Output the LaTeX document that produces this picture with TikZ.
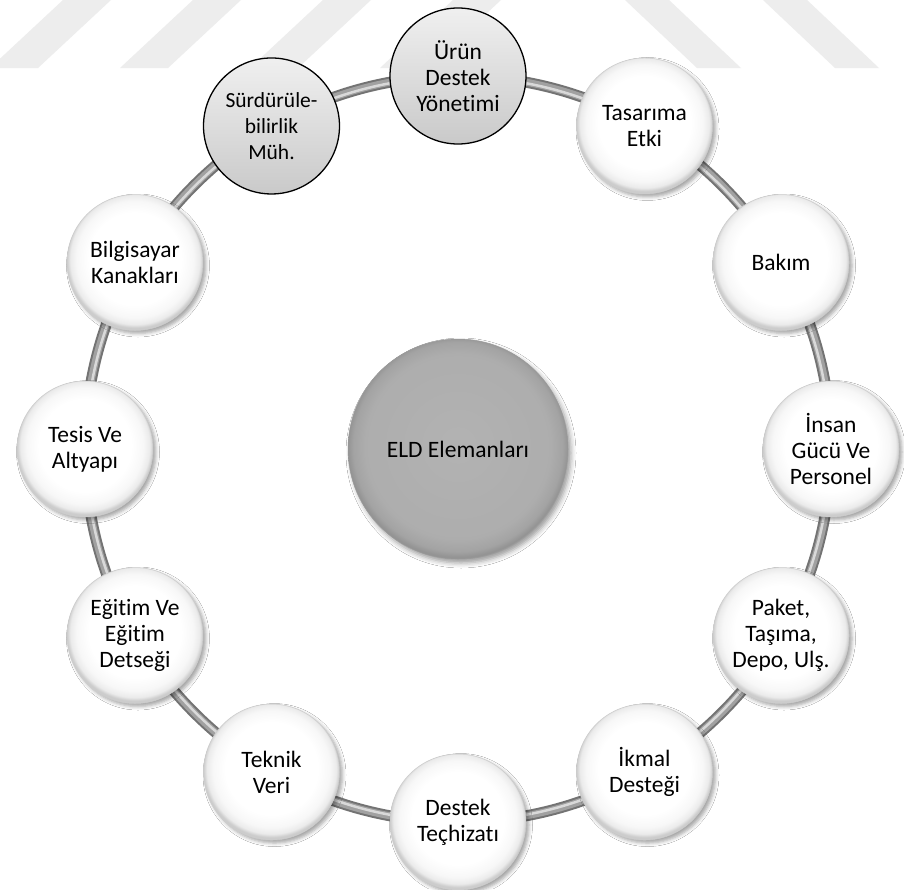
\documentclass[tikz,border=0pt]{standalone}
\usepackage{fontspec}
\setmainfont{Carlito}[Ligatures=NoCommon]
\usetikzlibrary{calc,shadows.blur}

% soft white disc with a faint grey bevel at the rim
\pgfdeclareradialshading{whitedisc}{\pgfpoint{0bp}{2bp}}{%
  color(0bp)=(white); color(17bp)=(white); color(21.5bp)=(black!3);
  color(23.8bp)=(black!8); color(25bp)=(black!20); color(50bp)=(black!20)}
% grey hub disc
\pgfdeclareradialshading{greydisc}{\pgfpoint{0bp}{1bp}}{%
  color(0bp)=(black!30); color(21bp)=(black!32); color(23.8bp)=(black!36);
  color(25bp)=(black!42); color(50bp)=(black!42)}

\tikzset{
  every node/.style={font=\fontsize{23.5}{26}\selectfont, text=black},
  ball/.style={circle, minimum size=136, inner sep=0pt, align=center,
    shading=whitedisc, draw=black!20, line width=0.5pt,
    blur shadow={shadow xshift=3pt, shadow yshift=-3pt,
      shadow blur radius=3.5pt, shadow opacity=35}},
  greyball/.style={circle, minimum size=136, inner sep=0pt, align=center,
    top color=black!6, bottom color=black!21, draw=black, line width=1.3pt},
  smalltext/.style={font=\fontsize{21.5}{26}\selectfont},
  hub/.style={circle, minimum size=220, inner sep=0pt, align=center,
    shading=greydisc, draw=black!40, line width=0.5pt,
    blur shadow={shadow xshift=3pt, shadow yshift=-4pt,
      shadow blur radius=5pt, shadow opacity=40}},
  stripe/.style={fill=black!7, draw=none},
  tubeedge/.style={draw=black!55, line width=11pt},
  tubebody/.style={draw=black!37, line width=7pt},
  tubeshine/.style={draw=black!15, line width=2.5pt}
}

\begin{document}
\begin{tikzpicture}[x=1pt, y=-1pt]
  \useasboundingbox (0,0) rectangle (904,889);
  \fill[white] (0,0) rectangle (904,889);

  % faint diagonal bands along the top edge
  \foreach \xb in {-10,120,250,380}
    \path[stripe] (\xb,68) -- ++(48,0) -- ++(73,-68) -- ++(-48,0) -- cycle;
  \foreach \xt in {625,763}
    \path[stripe] (\xt,0) -- ++(44,0) -- ++(72,68) -- ++(-44,0) -- cycle;

  % the ring that carries the elements
  \coordinate (c) at (458,449);
  \draw[tubeedge]  (c) circle[radius=373];
  \draw[tubebody]  (c) circle[radius=373];
  \draw[tubeshine] (c) circle[radius=372];

  % hub
  \node[hub] (hub) at (c) {ELD Elemanları};

  % elements around the ring, clockwise from the top
  \node[greyball] (urun) at ($(c)+({373*cos(90)},{-373*sin(90)})$)
    {Ürün\\Destek\\Yönetimi};
  \foreach \ang/\nm/\txt in {
      60/tasarim/{Tasarıma\\Etki},
      30/bakim/{Bakım},
      0/insan/{İnsan\\Gücü Ve\\Personel},
      -30/paket/{Paket,\\Taşıma,\\Depo, Ulş.},
      -60/ikmal/{İkmal\\Desteği},
      -90/techizat/{Destek\\Teçhizatı},
      -120/teknik/{Teknik\\Veri},
      -150/egitim/{Eğitim Ve\\Eğitim\\Detseği},
      180/tesis/{Tesis Ve\\Altyapı},
      150/bilgisayar/{Bilgisayar\\Kanakları}}
    \node[ball] (\nm) at ($(c)+({373*cos(\ang)},{-373*sin(\ang)})$) {\txt};
  \node[greyball, smalltext] (surdur) at ($(c)+({373*cos(120)},{-373*sin(120)})$)
    {Sürdürüle-\\bilirlik\\Müh.};
\end{tikzpicture}
\end{document}
